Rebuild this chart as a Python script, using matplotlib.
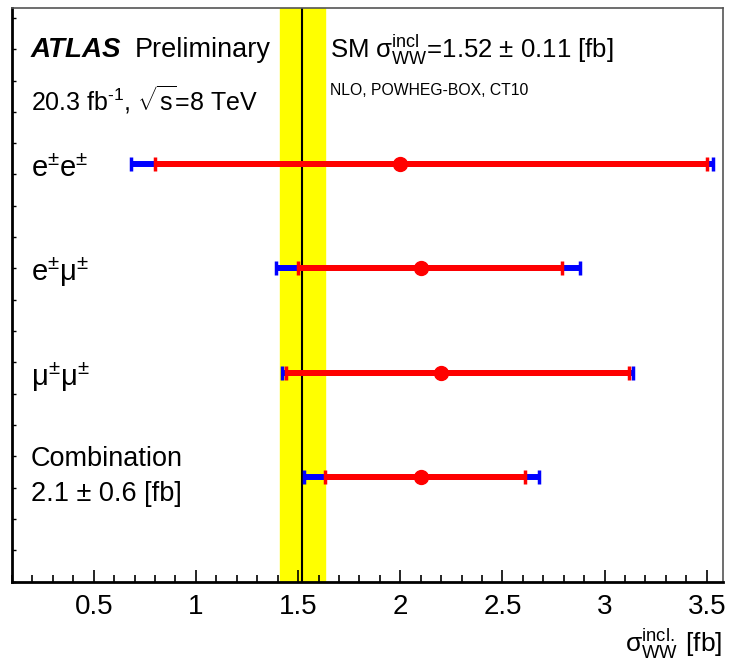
import numpy as np
import matplotlib
matplotlib.use("Agg")
import matplotlib.pyplot as plt
from matplotlib.ticker import MultipleLocator

plt.rcParams['font.family'] = ['Liberation Sans', 'DejaVu Sans']
plt.rcParams['mathtext.fontset'] = 'custom'
plt.rcParams['mathtext.rm'] = 'Liberation Sans'
plt.rcParams['mathtext.it'] = 'Liberation Sans:italic'
plt.rcParams['mathtext.bf'] = 'Liberation Sans:bold'

# channels, top to bottom
channels = ["e$^{±}$e$^{±}$", "e$^{±}$μ$^{±}$", "μ$^{±}$μ$^{±}$", "Combination"]
ypos = [4, 3, 2, 1]
central = [2.0, 2.1, 2.2, 2.1]
# inner (red) and total (blue) interval edges
inner_lo = [0.80, 1.50, 1.44, 1.63]
inner_hi = [3.50, 2.79, 3.12, 2.61]
total_lo = [0.68, 1.39, 1.42, 1.53]
total_hi = [3.53, 2.88, 3.14, 2.68]

# SM prediction
sm_value = 1.52
sm_err = 0.11

W, H = 729, 669
fig = plt.figure(figsize=(W / 100, H / 100), dpi=100)
ax = fig.add_axes([12 / W, 1 - 581.5 / H, (722.7 - 12) / W, (581.5 - 7.5) / H])

ax.axvspan(sm_value - sm_err, sm_value + sm_err, color='#ffff00', zorder=1)
ax.axvline(sm_value, color='black', lw=1.5, zorder=2)

central = np.array(central)
tot_err = [central - np.array(total_lo), np.array(total_hi) - central]
in_err = [central - np.array(inner_lo), np.array(inner_hi) - central]

ax.errorbar(central, ypos, xerr=tot_err, fmt='none', ecolor='#0000ff',
            elinewidth=4.3, capsize=4.8, capthick=2.5, zorder=3)
ax.errorbar(central, ypos, xerr=in_err, fmt='o', color='#ff0000', ms=10,
            ecolor='#ff0000', elinewidth=4.3, capsize=4.8, capthick=2.5, zorder=4)

ax.set_xlim(0.1, 3.578)
ax.set_ylim(0, 5.5)

ax.xaxis.set_minor_locator(MultipleLocator(0.1))
ax.set_xticks([0.5, 1, 1.5, 2, 2.5, 3, 3.5])
ax.set_xticklabels(["0.5", "1", "1.5", "2", "2.5", "3", "3.5"])
ax.tick_params(axis='x', which='major', direction='in', length=9, width=1.2,
               labelsize=20, pad=9, top=False)
ax.tick_params(axis='x', which='minor', direction='in', length=5, width=1.2, top=False)
ax.yaxis.set_major_locator(MultipleLocator(0.3))
ax.tick_params(axis='y', which='major', direction='in', length=3, width=1,
               labelleft=False, right=False)

for side in ['left', 'bottom']:
    ax.spines[side].set_linewidth(2)
ax.spines['top'].set_linewidth(1.2)
ax.spines['right'].set_linewidth(1.2)
ax.spines['top'].set_color('#555555')
ax.spines['right'].set_color('#555555')


def px_text(x, y, s, **kw):
    fig.text(x / W, 1 - y / H, s, va='baseline', **kw)


px_text(31, 57, "ATLAS", fontsize=20, fontweight='bold', style='italic')
px_text(135, 57, "Preliminary", fontsize=19.5)
px_text(31, 110, "20.3 fb$^{\\text{-}1}$, $\\sqrt{\\mathrm{s}}$=8 TeV", fontsize=18)
px_text(330, 58, "SM σ$^{\\mathrm{incl}}_{\\mathrm{WW}}$=1.52 ± 0.11 [fb]", fontsize=18.5)
px_text(330, 95, "NLO, POWHEG-BOX, CT10", fontsize=11.3)

label_y = [177, 281, 386]
for lab, yb in zip(channels[:3], label_y):
    px_text(31, yb, lab, fontsize=21)
px_text(31, 466, "Combination", fontsize=19.5)
px_text(31, 501, "2.1 ± 0.6 [fb]", fontsize=19.5)

fig.text(722 / W, 1 - 652 / H, "σ$^{\\mathrm{incl.}}_{\\mathrm{WW}}$ [fb]", ha='right',
         va='baseline', fontsize=19)

fig.savefig("out.png", dpi=100)
